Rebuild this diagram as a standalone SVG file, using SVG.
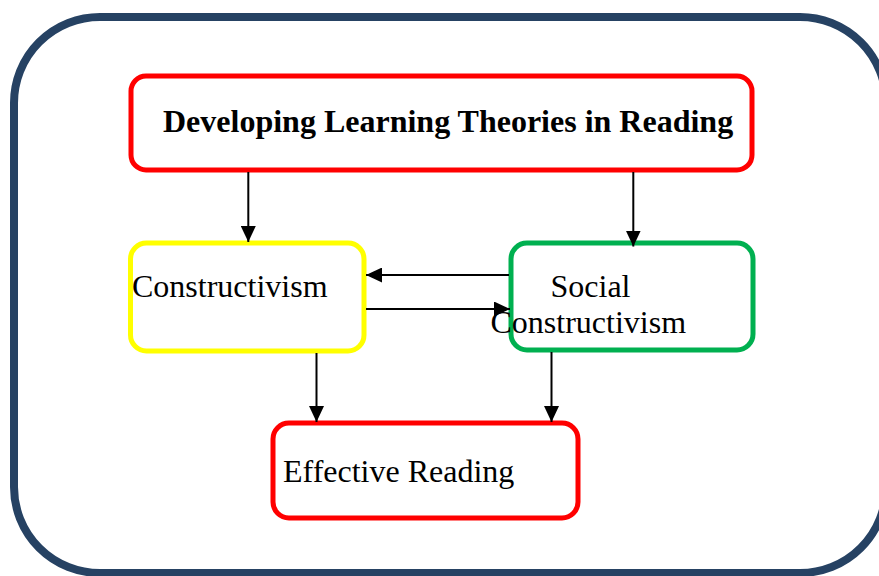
<svg xmlns="http://www.w3.org/2000/svg" width="879" height="576" viewBox="0 0 879 576">
<defs>
<marker id="ah" viewBox="0 0 16 15" refX="16" refY="7.5" markerWidth="16" markerHeight="15" markerUnits="userSpaceOnUse" orient="auto">
<path d="M0,0 L16,7.5 L0,15 Z" fill="#000"/>
</marker>
</defs>
<style>
.box{fill:#fff;stroke-width:5}
.t{font-family:"Liberation Serif","Times New Roman",serif;font-size:32px;fill:#000}
.b{font-weight:bold}
.c{stroke:#000;stroke-width:2;fill:none;marker-end:url(#ah)}
</style>
<rect x="0" y="0" width="879" height="576" fill="#fff"/>
<rect id="frame" x="14" y="17" width="872" height="556" rx="86" ry="86" fill="#fff" stroke="#264263" stroke-width="8"/>
<g id="title">
<rect class="box" x="131" y="76" width="621" height="94" rx="15" stroke="#ff0000"/>
<text class="t b" x="163" y="132">Developing Learning Theories in Reading</text>
</g>
<g id="constructivism">
<rect class="box" x="130.5" y="243" width="233.5" height="108" rx="16" stroke="#ffff00"/>
<text class="t" x="132" y="297">Constructivism</text>
</g>
<g id="social">
<rect class="box" x="511" y="243" width="242" height="107" rx="16" stroke="#00b050"/>
<text class="t" x="550.5" y="297">Social</text>
<text class="t" x="490.5" y="333">Constructivism</text>
</g>
<g id="effective">
<rect class="box" x="273" y="423" width="305" height="95" rx="16" stroke="#ff0000"/>
<text class="t" x="283" y="482">Effective Reading</text>
</g>
<g id="connectors">
<line class="c" x1="248.3" y1="172" x2="248.3" y2="242"/>
<line class="c" x1="633.3" y1="172" x2="633.3" y2="246.5"/>
<line class="c" x1="509" y1="275" x2="366" y2="275"/>
<line class="c" x1="366" y1="309" x2="510" y2="309"/>
<line class="c" x1="316.5" y1="353" x2="316.5" y2="422"/>
<line class="c" x1="551.5" y1="352" x2="551.5" y2="422"/>
</g>
</svg>
